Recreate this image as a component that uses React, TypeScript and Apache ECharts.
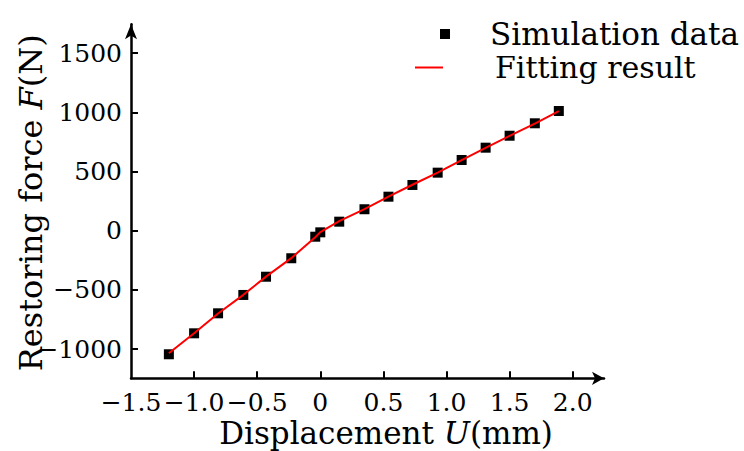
import React, { useEffect, useRef } from "react";
import * as echarts from "echarts";

// Displacement U (mm) of each simulated point
const displacement = [-1.2, -1.0, -0.81, -0.61, -0.43, -0.23, -0.04, 0.0, 0.15, 0.35, 0.54, 0.73, 0.93, 1.12, 1.31, 1.5, 1.7, 1.89];
// Simulated restoring force F (N)
const simulationForce = [-1044, -867, -698, -543, -389, -233, -51, -14, 76, 181, 287, 386, 490, 597, 701, 802, 907, 1011];
// Fitted restoring force F (N)
const fittedForce = [-1036, -866, -700, -542, -388, -232, -55, -12, 80, 182, 288, 388, 490, 596, 700, 801, 905, 1010];

const xTickValues = [-1.5, -1.0, -0.5, 0, 0.5, 1.0, 1.5, 2.0];
const xTickLabels = ["−1.5", "−1.0", "−0.5", "0", "0.5", "1.0", "1.5", "2.0"];
const yTickValues = [-1000, -500, 0, 500, 1000, 1500];
const yTickLabels = ["−1000", "−500", "0", "500", "1000", "1500"];

const seriesNames = ["Simulation data", "Fitting result"];

const FONT = "DejaVu Serif";

export default function App() {
  const ref = useRef<HTMLDivElement>(null);

  useEffect(() => {
    if (!ref.current) return;
    const chart = echarts.init(ref.current, undefined, { renderer: "svg" });

    const simData = displacement.map((x, i) => [x, simulationForce[i]]);
    const fitData = displacement.map((x, i) => [x, fittedForce[i]]);

    const labelOf = (values: number[], labels: string[]) => (v: number) => {
      const idx = values.findIndex((t) => Math.abs(t - v) < 1e-9);
      return idx >= 0 ? labels[idx] : "";
    };

    chart.setOption({
      animation: false,
      backgroundColor: "#ffffff",
      grid: {
        left: 131,
        top: 24.2,
        width: 473,
        height: 354.1,
        containLabel: false,
        outerBoundsMode: "none",
      },
      legend: [
        {
          left: 440,
          top: 18.5,
          padding: 0,
          orient: "vertical",
          itemWidth: 10,
          itemHeight: 10,
          icon: "rect",
          data: [seriesNames[0]],
          selectedMode: false,
          textStyle: { fontFamily: FONT, fontSize: 31, color: "#000", padding: [0, 0, 7, 35] },
        },
        {
          left: 415,
          top: 52.5,
          padding: 0,
          orient: "vertical",
          itemWidth: 28,
          itemHeight: 2,
          icon: "rect",
          data: [seriesNames[1]],
          selectedMode: false,
          textStyle: { fontFamily: FONT, fontSize: 30, color: "#000", padding: [0, 0, 7, 47] },
        },
      ],
      xAxis: {
        type: "value",
        min: -1.5,
        max: 2.248,
        splitLine: { show: false },
        axisLine: {
          onZero: false,
          lineStyle: { color: "#000", width: 2.5 },
          symbol: ["none", "arrow"],
          symbolSize: [10, 12],
        },
        axisTick: {
          inside: true,
          length: 7,
          lineStyle: { color: "#000", width: 2 },
          customValues: xTickValues.slice(1),
        },
        axisLabel: {
          customValues: xTickValues,
          formatter: labelOf(xTickValues, xTickLabels),
          showMinLabel: true,
          hideOverlap: false,
          fontFamily: FONT,
          fontSize: 25,
          color: "#000",
          margin: 12,
        },
        name: "Displacement {i|U}(mm)",
        nameLocation: "middle",
        nameGap: 39,
        nameMoveOverlap: false,
        nameTextStyle: {
          fontFamily: FONT,
          fontSize: 31,
          color: "#000",
          padding: [0, 0, 0, 37],
          rich: {
            i: { fontFamily: FONT, fontSize: 31, fontStyle: "italic", color: "#000" },
          },
        },
      },
      yAxis: {
        type: "value",
        min: -1247,
        max: 1744,
        splitLine: { show: false },
        axisLine: {
          onZero: false,
          lineStyle: { color: "#000", width: 2.5 },
          symbol: ["none", "arrow"],
          symbolSize: [9, 15],
        },
        axisTick: {
          inside: true,
          length: 7,
          lineStyle: { color: "#000", width: 2 },
          customValues: yTickValues,
        },
        axisLabel: {
          customValues: yTickValues,
          formatter: labelOf(yTickValues, yTickLabels),
          fontFamily: FONT,
          fontSize: 25,
          color: "#000",
          margin: 9,
        },
        name: "Restoring force {i|F}(N)",
        nameLocation: "middle",
        nameGap: 84,
        nameMoveOverlap: false,
        nameTextStyle: {
          fontFamily: FONT,
          fontSize: 32,
          color: "#000",
          padding: [0, 3, 0, 0],
          rich: {
            i: { fontFamily: FONT, fontSize: 32, fontStyle: "italic", color: "#000" },
          },
        },
      },
      series: [
        {
          name: seriesNames[0],
          type: "scatter",
          data: simData,
          symbol: "rect",
          symbolSize: 10,
          itemStyle: { color: "#000", opacity: 1 },
          z: 2,
        },
        {
          name: seriesNames[1],
          type: "line",
          data: fitData,
          showSymbol: false,
          symbol: "none",
          lineStyle: { color: "#ff0000", width: 2 },
          itemStyle: { color: "#ff0000" },
          z: 3,
        },
      ],
    });

    return () => chart.dispose();
  }, []);

  return (
    <div
      ref={ref}
      style={{ position: "absolute", left: 0, top: 0, width: 744, height: 451 }}
    />
  );
}
